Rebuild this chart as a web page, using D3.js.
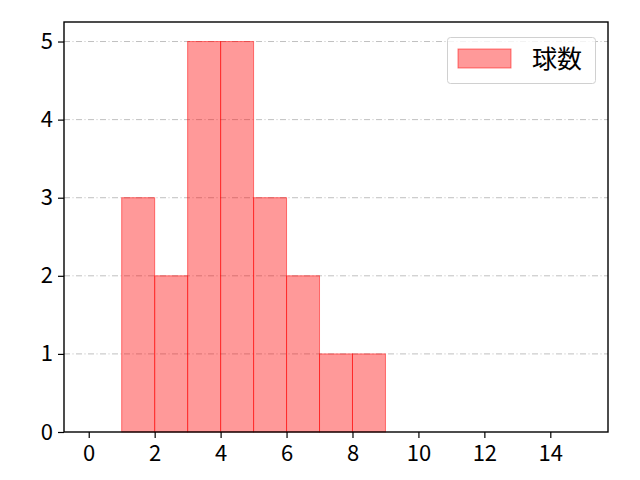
<!DOCTYPE html>
<html><head><meta charset="utf-8">
<script src="https://cdn.jsdelivr.net/npm/d3@7"></script>
<style>body{margin:0;background:#fff}text{font-family:"Noto Sans CJK JP","DejaVu Sans",sans-serif}</style>
</head><body><svg id="c" width="640" height="480"></svg>
<script>
const binStarts = [1,2,3,4,5,6,7,8];
const binWidth = 1;
const counts = [3,2,5,5,3,2,1,1];
const xTicks = [0,2,4,6,8,10,12,14];
const yTicks = [0,1,2,3,4,5];
const seriesLabel = "球数";

const svg = d3.select("#c");
const L=64,R=608,T=22,B=432;
const x = d3.scaleLinear().domain([-0.75,15.75]).range([L,R]);
const y = d3.scaleLinear().domain([0,5.25]).range([B,T]);

// grid
svg.append("g").selectAll("line").data(yTicks.filter(d=>d>0)).join("line")
 .attr("x1",L).attr("x2",R).attr("y1",d=>y(d)).attr("y2",d=>y(d))
 .attr("stroke","#b0b0b0").attr("stroke-width",0.8).attr("stroke-dasharray","6,2.5,1,2.5");

// bars
svg.append("g").selectAll("rect").data(counts).join("rect")
 .attr("x",(d,i)=>x(binStarts[i])).attr("width",(d,i)=>x(binStarts[i]+binWidth)-x(binStarts[i]))
 .attr("y",d=>y(d)).attr("height",d=>B-y(d))
 .attr("fill","rgba(255,0,0,0.4)").attr("stroke","rgba(255,0,0,0.5)").attr("stroke-width",1);

// axes
const xa = svg.append("g").attr("transform",`translate(0,${B})`).call(d3.axisBottom(x).tickValues(xTicks).tickSize(6).tickPadding(7).tickFormat(d3.format("d")));
const ya = svg.append("g").attr("transform",`translate(${L},0)`).call(d3.axisLeft(y).tickValues(yTicks).tickSize(6).tickPadding(5).tickFormat(d3.format("d")));
[xa,ya].forEach(a=>{a.attr("font-size",null).style("font-size","22px");a.select(".domain").remove();a.selectAll("line").attr("stroke","#000").attr("stroke-width",1.2);a.selectAll("text").style("font-size","22px").attr("fill","#000").style("font-family","'Noto Sans CJK JP','DejaVu Sans',sans-serif");});
svg.append("rect").attr("x",L).attr("y",T).attr("width",R-L).attr("height",B-T).attr("fill","none").attr("stroke","#000").attr("stroke-width",1.4);

// legend
const lg = svg.append("g");
lg.append("rect").attr("x",447.5).attr("y",37.5).attr("width",148).attr("height",46).attr("rx",3).attr("fill","rgba(255,255,255,0.8)").attr("stroke","#d0d0d0");
lg.append("rect").attr("x",458).attr("y",49).attr("width",53).attr("height",19).attr("fill","rgba(255,0,0,0.4)").attr("stroke","rgba(255,0,0,0.5)");
lg.append("text").attr("x",532).attr("y",68).style("font-size","25px").attr("fill","#000").text(seriesLabel);
</script></body></html>
